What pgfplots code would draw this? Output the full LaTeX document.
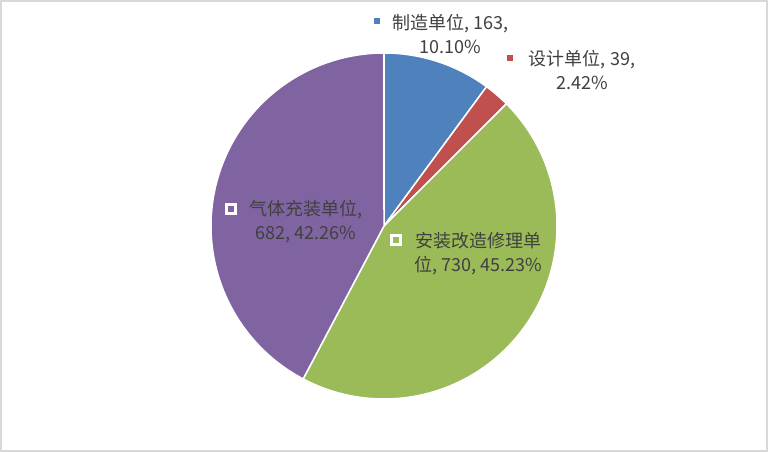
\documentclass[border=0pt]{standalone}
\usepackage{fontspec}
\setmainfont{Noto Sans CJK SC}
\usepackage{pgfplots}
\pgfplotsset{compat=1.18}
\usepgfplotslibrary{polar}
\usepackage{pgfplotstable}
\definecolor{cBlue}{HTML}{4F81BD}
\definecolor{cRed}{HTML}{C0504D}
\definecolor{cGreen}{HTML}{9BBB59}
\definecolor{cPurple}{HTML}{8064A2}
\definecolor{cText}{HTML}{404040}
\definecolor{cFrame}{HTML}{D9D9D9}

% counts of each category, clockwise from 12 o'clock
\pgfplotstableread{
name value
zhizao 163
sheji 39
anzhuang 730
qiti 682
}\piedata

\begin{document}
\begin{tikzpicture}[x=1pt,y=1pt]
\pgfplotstablegetelem{0}{value}\of\piedata \let\vA\pgfplotsretval
\pgfplotstablegetelem{1}{value}\of\piedata \let\vB\pgfplotsretval
\pgfplotstablegetelem{2}{value}\of\piedata \let\vC\pgfplotsretval
\pgfplotstablegetelem{3}{value}\of\piedata \let\vD\pgfplotsretval
\pgfmathsetmacro{\tot}{\vA+\vB+\vC+\vD}
\pgfmathsetmacro{\aA}{90}
\pgfmathsetmacro{\aB}{\aA-\vA/\tot*360}
\pgfmathsetmacro{\aC}{\aB-\vB/\tot*360}
\pgfmathsetmacro{\aD}{\aC-\vC/\tot*360}
\pgfmathsetmacro{\aE}{\aD-\vD/\tot*360}
\path[use as bounding box] (0,0) rectangle (768,452);
\fill[white] (0,0) rectangle (768,452);
\draw[cFrame, line width=2] (1,1) rectangle (767,451);
\begin{polaraxis}[at={(384,226)}, anchor=center, scale only axis,
  width=346pt, height=346pt, ymin=0, ymax=173, hide axis, clip=false]
\addplot[fill=cBlue, draw=white, line width=1.5pt, domain=\aB:\aA, samples=60] {173} -- (axis cs:0,0) -- cycle;
\addplot[fill=cRed, draw=white, line width=1.5pt, domain=\aC:\aB, samples=20] {173} -- (axis cs:0,0) -- cycle;
\addplot[fill=cGreen, draw=white, line width=1.5pt, domain=\aD:\aC, samples=150] {173} -- (axis cs:0,0) -- cycle;
\addplot[fill=cPurple, draw=white, line width=1.5pt, domain=\aE:\aD, samples=150] {173} -- (axis cs:0,0) -- cycle;
\end{polaraxis}
\tikzset{lbl/.style={text=cText, align=center, inner sep=0, font=\fontsize{18}{24}\selectfont},
  mk/.style={draw=white, line width=2.2pt, minimum size=9pt, inner sep=0}}
\node[mk, fill=cBlue] at (377,431) {};
\node[lbl] at (450,418) {制造单位, 163,\\10.10\%};
\node[mk, fill=cRed] at (510,394) {};
\node[lbl] at (582,382.5) {设计单位, 39,\\2.42\%};
\node[mk, fill=cPurple] at (231,243) {};
\node[lbl] at (305.5,230) {气体充装单位,\\682, 42.26\%};
\node[mk, fill=cGreen] at (396,212) {};
\node[lbl] at (478,198) {安装改造修理单\\位, 730, 45.23\%};
\end{tikzpicture}
\end{document}
